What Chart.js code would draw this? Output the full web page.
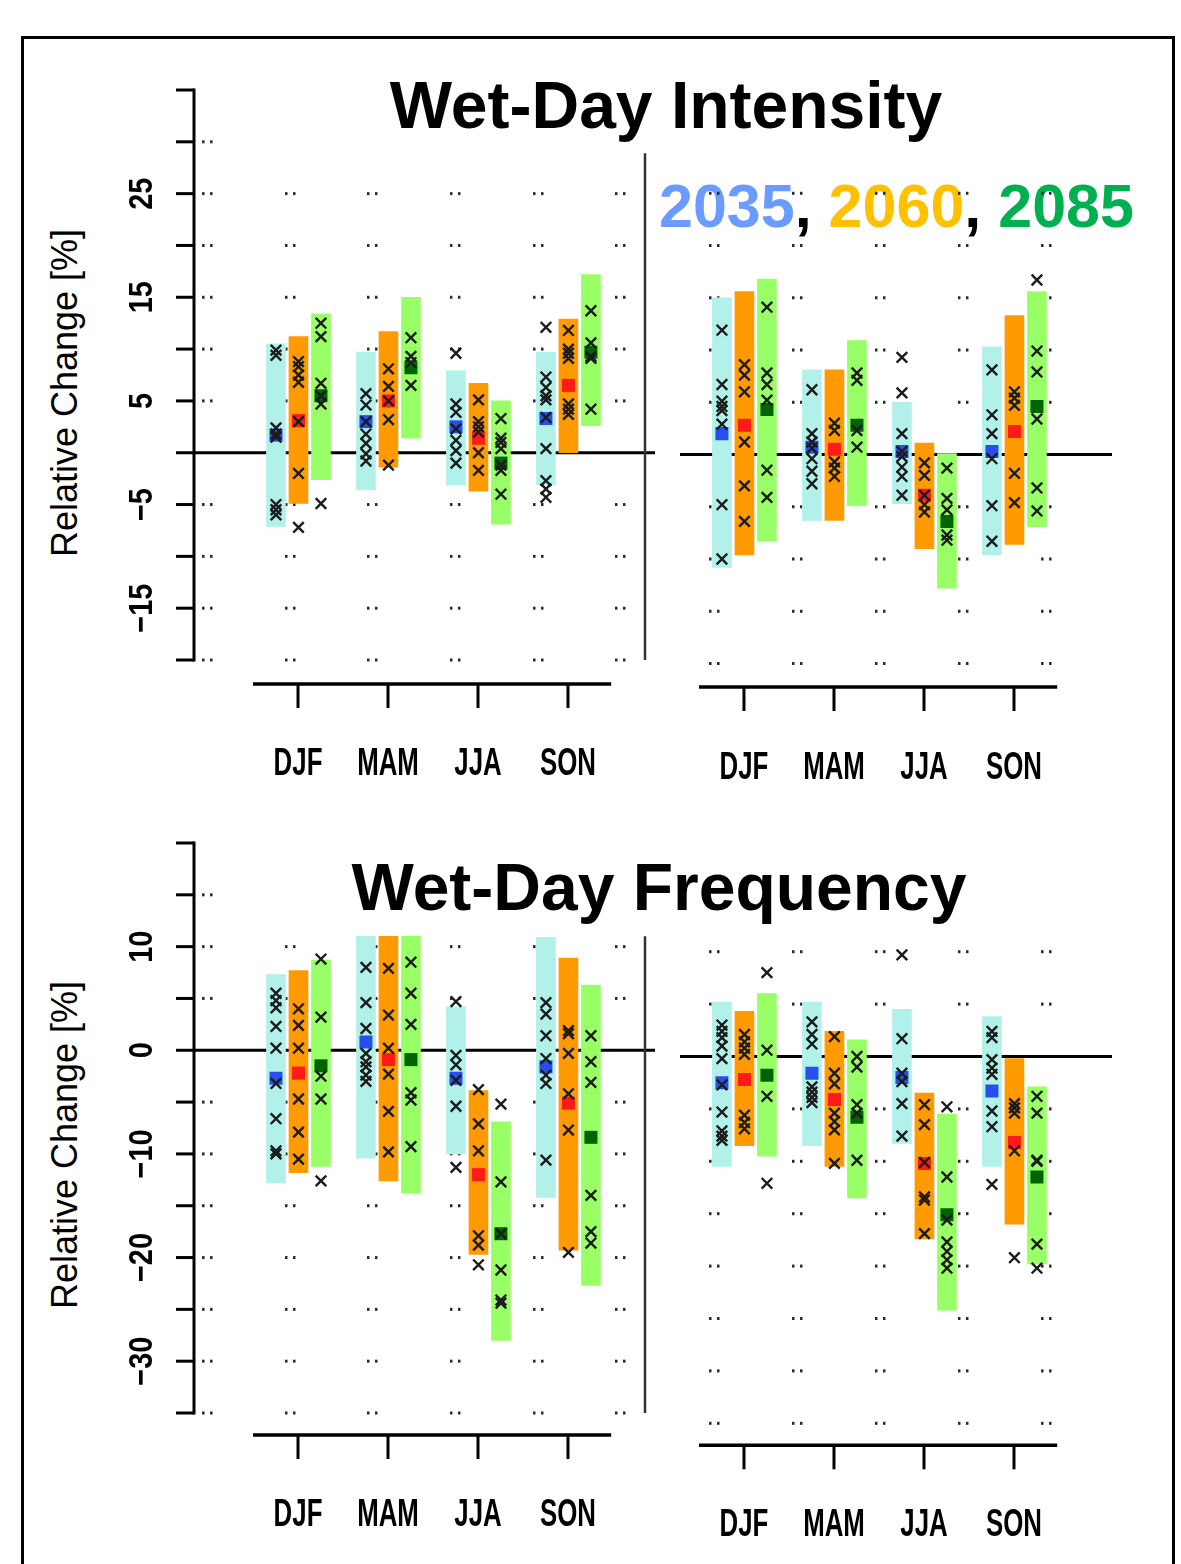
<!DOCTYPE html>
<html>
<head>
<meta charset="utf-8">
<script src="https://cdn.jsdelivr.net/npm/chart.js@4.4.0/dist/chart.umd.min.js"></script>
<style>
  html, body { margin: 0; padding: 0; background: #fff; }
  #page { position: relative; width: 1181px; height: 1564px; overflow: hidden; font-family: "Liberation Sans", Arial, sans-serif; }
  #page canvas { position: absolute; left: 0; top: 0; }
  .frame { position: absolute; left: 21px; top: 36px; width: 1154px; height: 1600px; border: 3px solid #000; box-sizing: border-box; }
  .title { position: absolute; font-weight: bold; font-size: 66px; line-height: 66px; white-space: nowrap; transform: translateX(-50%); }
  .legend { position: absolute; font-weight: bold; font-size: 61px; line-height: 61px; white-space: nowrap; }
  .ytitle { position: absolute; font-size: 36px; line-height: 36px; white-space: nowrap; transform: translate(-50%, -50%) rotate(-90deg); }
</style>
</head>
<body>
<div id="page">
  <div class="frame"></div>
  <div class="title" style="left:666px; top:72px">Wet-Day Intensity</div>
  <div class="title" style="left:659px; top:854px">Wet-Day Frequency</div>
  <div class="legend" id="legend" style="left:659px; top:176px"></div>
  <div class="ytitle" style="left:65px; top:393px">Relative Change [%]</div>
  <div class="ytitle" style="left:65px; top:1145px">Relative Change [%]</div>
  <canvas id="intLeft" width="1181" height="1564"></canvas>
  <canvas id="intRight" width="1181" height="1564"></canvas>
  <canvas id="freqLeft" width="1181" height="1564"></canvas>
  <canvas id="freqRight" width="1181" height="1564"></canvas>
</div>
<script>
const seasons = ['DJF', 'MAM', 'JJA', 'SON'];
const periods = ['2035', '2060', '2085'];
const legendColors = ['#6b9bff', '#ffc000', '#00b050'];
const intensityTickLabels = [25, 15, 5, -5, -15];
const frequencyTickLabels = [10, 0, -10, -20, -30];

// [low, high] of the model range, per season, per period (2035, 2060, 2085)
const intLeftRange = [
  [[-7.1, 10.5], [-4.9, 11.2], [-2.6, 13.4]],
  [[-3.6, 9.7], [-1.4, 11.7], [1.4, 15.0]],
  [[-3.1, 7.9], [-3.7, 6.7], [-6.9, 5.0]],
  [[-3.1, 9.7], [0.0, 12.9], [2.6, 17.2]]
];
const intLeftMedian = [[1.7, 3.1, 5.5], [3.0, 5.0, 8.2], [2.5, 1.4, -1.0], [3.3, 6.5, 9.7]];
const intLeftModels = [
  [[9.9, 9.4, 2.4, 1.8, 1.5, -5.0, -5.5, -6.0], [8.8, 8.3, 7.5, 6.8, 3.0, -2.0, -7.2], [12.5, 11.2, 6.7, 5.5, 4.7, -4.9]],
  [[5.7, 4.6, 3.0, 1.8, 0.9, -0.1, -0.8], [8.1, 6.4, 5.0, 3.2, -1.2], [11.1, 9.3, 8.7, 6.5]],
  [[9.6, 4.7, 3.9, 2.3, 1.2, 0.2, -1.0], [5.1, 3.0, 2.5, 2.0, 0.0, -1.7], [3.3, 1.4, 1.0, 0.4, -1.2, -1.7, -4.0]],
  [[12.1, 7.3, 6.3, 5.5, 5.1, 3.4, 0.4, -2.7, -3.5, -4.3], [11.8, 10.0, 9.6, 9.1, 4.7, 4.2, 3.7], [13.7, 10.6, 9.3, 9.1, 4.2]]
];

const intRightRange = [
  [[-10.8, 15.0], [-9.6, 15.6], [-8.3, 16.8]],
  [[-6.3, 8.1], [-6.3, 8.1], [-4.9, 10.9]],
  [[-4.7, 5.0], [-9.0, 1.1], [-12.8, 0.1]],
  [[-9.6, 10.3], [-8.6, 13.3], [-6.9, 15.6]]
];
const intRightMedian = [[2.0, 2.8, 4.3], [0.7, 0.5, 2.8], [0.3, -3.9, -6.4], [0.3, 2.2, 4.6]];
const intRightModels = [
  [[11.9, 6.7, 5.1, 4.6, 4.2, 2.9, -4.8, -10.0], [8.6, 7.6, 6.0, 1.2, -3.0, -6.4], [14.1, 7.8, 6.7, 5.2, -1.5, -4.1]],
  [[6.2, 2.0, 1.2, 0.6, -0.4, -1.6, -2.8], [3.0, 2.3, -0.7, -1.3, -2.1], [7.8, 7.1, 2.3, 0.7]],
  [[9.3, 5.9, 2.0, 0.3, -0.2, -1.2, -2.1, -3.9], [-0.8, -2.0, -3.9, -4.8, -5.5], [-1.3, -4.2, -5.3, -7.7, -8.2]],
  [[8.1, 3.8, 2.0, -0.4, -4.9, -8.3], [6.0, 5.4, 4.7, -1.8, -4.6], [16.7, 9.9, 7.9, 3.4, -3.2, -5.4]]
];

const freqLeftRange = [
  [[-12.8, 7.3], [-11.8, 7.7], [-11.2, 8.7]],
  [[-10.4, 11.0], [-12.6, 11.0], [-13.8, 11.0]],
  [[-10.0, 4.2], [-19.7, -3.9], [-28.0, -6.9]],
  [[-14.2, 10.9], [-19.3, 8.9], [-22.7, 6.3]]
];
const freqLeftMedian = [[-2.7, -2.2, -1.5], [0.8, -0.9, -0.9], [-2.7, -12.0, -17.7], [-1.6, -5.1, -8.4]];
const freqLeftModels = [
  [[5.5, 4.8, 4.1, 2.3, 0.2, -3.2, -6.6, -9.7, -10.0], [4.0, 2.4, 0.2, -4.7, -7.9, -10.5], [8.8, 3.2, -2.5, -4.7, -12.6]],
  [[8.0, 4.6, 2.1, -0.3, -1.1, -1.6, -2.4, -3.0], [7.9, 3.4, 0.2, -2.3, -5.9, -9.8], [8.5, 5.5, 2.5, -4.1, -4.8, -9.3]],
  [[4.7, -0.5, -1.4, -2.9, -5.4, -11.3], [-3.8, -7.1, -9.7, -17.9, -18.8, -20.7], [-5.2, -12.7, -17.7, -21.2, -24.1, -24.4]],
  [[4.6, 3.5, 1.4, -0.8, -2.4, -3.2, -10.6], [1.9, 1.6, -0.3, -4.2, -7.7, -19.5], [1.4, -1.1, -3.1, -14.0, -17.5, -18.6]]
];

const freqRightRange = [
  [[-10.5, 5.2], [-8.5, 4.3], [-9.5, 6.0]],
  [[-8.5, 5.2], [-10.5, 2.4], [-13.5, 1.6]],
  [[-8.3, 4.5], [-17.4, -3.5], [-24.2, -5.5]],
  [[-10.5, 3.8], [-16.0, -0.2], [-19.8, -2.9]]
];
const freqRightMedian = [[-2.5, -2.2, -1.8], [-1.6, -4.1, -5.8], [-2.0, -10.2, -15.1], [-3.3, -8.2, -11.5]];
const freqRightModels = [
  [[3.0, 2.4, 1.8, 1.0, -0.2, -2.7, -5.3, -7.1, -7.6, -8.0], [2.1, 1.4, 0.8, 0.2, -5.6, -6.3, -6.9], [8.0, 0.6, -3.8, -12.1]],
  [[3.3, 2.1, 1.2, -2.9, -3.4, -3.9, -4.4], [1.9, -1.6, -2.6, -5.4, -6.2, -7.0, -10.2], [0.0, -1.0, -4.6, -5.4, -9.9]],
  [[9.7, 1.7, -1.6, -2.4, -4.5, -7.6], [-4.6, -6.5, -10.1, -13.4, -13.7, -16.9], [-4.8, -11.5, -15.6, -17.7, -18.6, -19.4, -20.2]],
  [[2.4, 1.8, -0.3, -1.1, -1.7, -5.2, -6.7, -12.2], [-4.5, -4.9, -5.4, -9.0, -19.2], [-3.8, -5.4, -9.9, -10.0, -17.9, -20.2]]
];

// styling
const barColors = ['#b1f1ea', '#ff9a00', '#99ff66'];
const medianColors = ['#2650ee', '#ff1a1a', '#006400'];
const offsets = [-0.245, 0.005, 0.255];
const W = 1181, H = 1564;

document.getElementById('legend').innerHTML = periods
  .map((p, k) => '<span style="color:' + legendColors[k] + '">' + p + '</span>')
  .join(', ');

function line(ctx, x1, y1, x2, y2) {
  ctx.beginPath(); ctx.moveTo(x1, y1); ctx.lineTo(x2, y2); ctx.stroke();
}

// narrow text, like the squeezed R labels
function squeezed(ctx, txt, px, py, sx, rot) {
  ctx.save();
  ctx.translate(px, py);
  if (rot) ctx.rotate(rot);
  ctx.scale(sx, 1);
  ctx.fillText(txt, 0, 0);
  ctx.restore();
}

function fmt(v) {
  return v < 0 ? '\u2212' + Math.abs(v) : String(v);
}

// R-like decorations: dotted grid remnants, zero line, detached axes
const rStyle = {
  id: 'rStyle',
  beforeDatasetsDraw(chart, args, o) {
    const { ctx, chartArea: a, scales: { x, y } } = chart;
    ctx.save();
    ctx.fillStyle = '#2a2a2a';
    o.gridCols.forEach((c, ci) => {
      const px = x.getPixelForValue(c);
      const top = ci === 0 ? o.gridTopFirst : o.gridTop;
      for (let v = o.gridBottom; v <= top; v += 5) {
        if (v === 0) continue;
        const py = y.getPixelForValue(v);
        ctx.fillRect(px - 5, py - 1.5, 2.5, 3);
        ctx.fillRect(px + 3, py - 1.5, 2.5, 3);
      }
    });
    ctx.strokeStyle = '#000';
    ctx.lineWidth = 3;
    const y0 = y.getPixelForValue(0);
    line(ctx, a.left, y0, a.right, y0);
    ctx.restore();
  },
  afterDraw(chart, args, o) {
    const { ctx, chartArea: a, scales: { x, y } } = chart;
    ctx.save();
    ctx.strokeStyle = '#000';
    ctx.fillStyle = '#000';
    // x axis
    const ay = a.bottom + o.axisGap;
    ctx.lineWidth = 3.5;
    line(ctx, x.getPixelForValue(-0.5), ay, x.getPixelForValue(3.48), ay);
    ctx.lineWidth = 3;
    ctx.font = 'bold 38px "Liberation Sans", Arial, sans-serif';
    ctx.textAlign = 'center';
    ctx.textBaseline = 'alphabetic';
    seasons.forEach((s, i) => {
      const px = x.getPixelForValue(i);
      line(ctx, px, ay, px, ay + 24);
      squeezed(ctx, s, px, a.bottom + o.labelGap, 0.68, 0);
    });
    // y axis
    if (o.yLabels) {
      ctx.lineWidth = 3;
      ctx.lineCap = 'square';
      line(ctx, a.left, y.getPixelForValue(y.max), a.left, y.getPixelForValue(y.min));
      ctx.lineCap = 'butt';
      ctx.font = 'bold 34px "Liberation Sans", Arial, sans-serif';
      for (let v = y.min; v <= y.max; v += 5) {
        const py = y.getPixelForValue(v);
        line(ctx, a.left - 18, py, a.left, py);
        if (o.yLabels.includes(v)) squeezed(ctx, fmt(v), 152, py, 0.85, -Math.PI / 2);
      }
    }
    // right edge of the plot region
    if (o.sepX !== undefined) {
      ctx.strokeStyle = '#333';
      ctx.lineWidth = 2.5;
      const sx = x.getPixelForValue(o.sepX);
      line(ctx, sx, y.getPixelForValue(o.sepTop), sx, a.bottom);
    }
    ctx.restore();
  }
};

function buildDatasets(range, median, models) {
  const ds = [];
  periods.forEach((p, k) => {
    ds.push({
      type: 'bar', label: p, order: 3, grouped: false, barThickness: 19, maxBarThickness: 19,
      backgroundColor: barColors[k], borderWidth: 0,
      data: seasons.map((s, i) => ({ x: i + offsets[k], y: range[i][k] }))
    });
  });
  periods.forEach((p, k) => {
    ds.push({
      type: 'scatter', label: p + ' median', order: 2,
      pointStyle: 'rect', pointRadius: 9.2, borderWidth: 0,
      backgroundColor: medianColors[k],
      data: seasons.map((s, i) => ({ x: i + offsets[k], y: median[i][k] }))
    });
  });
  const pts = [];
  seasons.forEach((s, i) => periods.forEach((p, k) => {
    models[i][k].forEach(v => pts.push({ x: i + offsets[k], y: v }));
  }));
  ds.push({
    type: 'scatter', label: 'models', order: 1,
    pointStyle: 'crossRot', pointRadius: 7.5, borderWidth: 2.4,
    borderColor: '#1c1c1c', backgroundColor: '#1c1c1c',
    data: pts
  });
  return ds;
}

function makePanel(id, area, yRange, xRange, range, median, models, deco) {
  return new Chart(document.getElementById(id), {
    type: 'scatter',
    data: { datasets: buildDatasets(range, median, models) },
    options: {
      responsive: false,
      animation: false,
      events: [],
      layout: { padding: { left: area.left, top: area.top, right: W - area.right, bottom: H - area.bottom } },
      scales: {
        x: { type: 'linear', display: false, offset: false, grid: { offset: false }, min: xRange[0], max: xRange[1] },
        y: { type: 'linear', display: false, offset: false, min: yRange[0], max: yRange[1] }
      },
      plugins: { legend: { display: false }, tooltip: { enabled: false }, rStyle: deco }
    },
    plugins: [rStyle]
  });
}

const leftCols = [-1.011, -0.089, 0.822, 1.744, 2.667, 3.578];
const rightCols = [-0.333, 0.589, 1.511, 2.433, 3.356];

makePanel('intLeft', { left: 194, right: 655, top: 90, bottom: 660 }, [-20, 35], [-1.156, 3.967],
  intLeftRange, intLeftMedian, intLeftModels,
  { gridCols: leftCols, gridBottom: -20, gridTop: 25, gridTopFirst: 30, axisGap: 24, labelGap: 115,
    yLabels: intensityTickLabels, sepX: 3.856, sepTop: 28.9 });

makePanel('intRight', { left: 680, right: 1112, top: 88.8, bottom: 663.5 }, [-20, 35], [-0.711, 4.089],
  intRightRange, intRightMedian, intRightModels,
  { gridCols: rightCols, gridBottom: -20, gridTop: 25, gridTopFirst: 25, axisGap: 23.5, labelGap: 115 });

makePanel('freqLeft', { left: 194, right: 655, top: 843, bottom: 1413 }, [-35, 20], [-1.156, 3.967],
  freqLeftRange, freqLeftMedian, freqLeftModels,
  { gridCols: leftCols, gridBottom: -35, gridTop: 10, gridTopFirst: 15, axisGap: 22, labelGap: 113,
    yLabels: frequencyTickLabels, sepX: 3.856, sepTop: 11 });

makePanel('freqRight', { left: 680, right: 1112, top: 846.9, bottom: 1423.3 }, [-35, 20], [-0.711, 4.089],
  freqRightRange, freqRightMedian, freqRightModels,
  { gridCols: rightCols, gridBottom: -35, gridTop: 10, gridTopFirst: 10, axisGap: 22, labelGap: 113 });
</script>
</body>
</html>
